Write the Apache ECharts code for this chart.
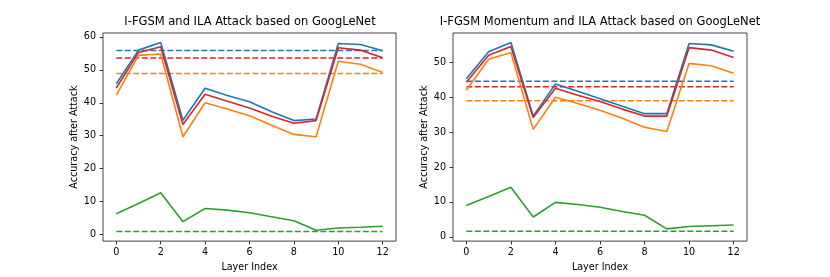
<!DOCTYPE html>
<html><head><meta charset="utf-8">
<script src="https://cdn.jsdelivr.net/npm/echarts@6/dist/echarts.min.js"></script>
<style>html,body{margin:0;padding:0;background:#fff}#c{width:830px;height:277px}</style>
</head><body><div id="c"></div>
<script>
const layers = [0,1,2,3,4,5,6,7,8,9,10,11,12];
const xTicks = [0,2,4,6,8,10,12];
const yTicksL = [0,10,20,30,40,50,60];
const yTicksR = [0,10,20,30,40,50];
const titleL = 'I-FGSM and ILA Attack based on GoogLeNet';
const titleR = 'I-FGSM Momentum and ILA Attack based on GoogLeNet';
// left panel (I-FGSM)
const L_blue   = [45.8,56.0,58.3,34.7,44.4,42.2,40.3,37.3,34.6,35.1,58.0,57.7,55.8];
const L_red    = [44.5,55.3,57.0,33.4,42.6,40.5,38.4,35.9,33.8,34.6,56.7,56.0,53.7];
const L_orange = [42.3,54.4,54.8,29.7,40.0,38.1,36.1,33.2,30.4,29.7,52.6,51.7,49.2];
const L_green  = [6.3,9.4,12.7,3.9,7.9,7.4,6.6,5.4,4.2,1.3,2.0,2.2,2.5];
const L_base   = {blue:55.9, red:53.6, orange:48.9, green:0.9};
// right panel (I-FGSM Momentum)
const R_blue   = [45.3,53.0,55.7,34.6,43.8,41.7,39.6,37.4,35.3,35.3,55.4,55.0,53.2];
const R_red    = [44.3,52.0,54.5,34.2,42.6,40.6,38.8,36.6,34.6,34.6,54.2,53.5,51.4];
const R_orange = [42.0,50.9,52.8,30.8,40.0,38.2,36.3,34.0,31.4,30.2,49.7,49.0,46.9];
const R_green  = [9.0,11.6,14.2,5.7,9.9,9.3,8.5,7.3,6.2,2.3,3.0,3.2,3.4];
const R_base   = {blue:44.6, red:43.0, orange:39.0, green:1.6};

const C = {blue:'#1f77b4', orange:'#ff7f0e', green:'#2ca02c', red:'#d62728'};
const FONT = 'DejaVu Sans';
const FS = 9.6;

function solid(arr, color, idx){
  return {type:'line', xAxisIndex:idx, yAxisIndex:idx, data: layers.map((x,i)=>[x,arr[i]]),
    showSymbol:false, symbol:'none', lineStyle:{color, width:1.6}, itemStyle:{color}, z:3, animation:false};
}
function dashed(v, color, idx){
  return {type:'line', xAxisIndex:idx, yAxisIndex:idx, data:[[layers[0],v],[layers[layers.length-1],v]],
    showSymbol:false, symbol:'none', lineStyle:{color, width:1.6, type:[6,2.5]}, itemStyle:{color}, z:2, animation:false};
}
function xAxis(idx){
  return {type:'value', gridIndex:idx, min:-0.6, max:12.6,
    name:'Layer Index', nameLocation:'middle', nameGap:18,
    nameTextStyle:{fontFamily:FONT, fontSize:FS, color:'#000'},
    axisLine:{show:false, onZero:false}, splitLine:{show:false},
    axisTick:{show:true, customValues:xTicks, length:3.4, lineStyle:{color:'#333'}},
    axisLabel:{customValues:xTicks, fontFamily:FONT, fontSize:FS, color:'#000', margin:6}};
}
function yAxis(idx, min, max, ticks){
  return {type:'value', gridIndex:idx, min, max,
    name:'Accuracy after Attack', nameLocation:'middle', nameGap:22, nameRotate:90,
    nameTextStyle:{fontFamily:FONT, fontSize:FS, color:'#000'},
    axisLine:{show:false, onZero:false}, splitLine:{show:false},
    axisTick:{show:true, customValues:ticks, length:3.4, lineStyle:{color:'#333'}},
    axisLabel:{customValues:ticks, fontFamily:FONT, fontSize:FS, color:'#000', margin:7}};
}
const chart = echarts.init(document.getElementById('c'), null, {renderer:'canvas'});
chart.setOption({
  animation:false,
  backgroundColor:'#fff',
  title:[
    {text:titleL, left:250, top:16, textAlign:'center', padding:0, textStyle:{fontFamily:FONT, fontSize:11.5, fontWeight:'normal', color:'#000'}},
    {text:titleR, left:600, top:16, textAlign:'center', padding:0, textStyle:{fontFamily:FONT, fontSize:11.5, fontWeight:'normal', color:'#000'}}
  ],
  grid:[
    {left:103, top:33, width:293, height:209, show:true, borderColor:'#444', borderWidth:1, backgroundColor:'transparent'},
    {left:453, top:33, width:294, height:209, show:true, borderColor:'#444', borderWidth:1, backgroundColor:'transparent'}
  ],
  xAxis:[xAxis(0), xAxis(1)],
  yAxis:[yAxis(0,-2.0,61.2,yTicksL), yAxis(1,-1.2,58.4,yTicksR)],
  series:[
    solid(L_blue,C.blue,0), solid(L_orange,C.orange,0), solid(L_green,C.green,0), solid(L_red,C.red,0),
    dashed(L_base.blue,C.blue,0), dashed(L_base.orange,C.orange,0), dashed(L_base.green,C.green,0), dashed(L_base.red,C.red,0),
    solid(R_blue,C.blue,1), solid(R_orange,C.orange,1), solid(R_green,C.green,1), solid(R_red,C.red,1),
    dashed(R_base.blue,C.blue,1), dashed(R_base.orange,C.orange,1), dashed(R_base.green,C.green,1), dashed(R_base.red,C.red,1)
  ]
});
</script></body></html>
